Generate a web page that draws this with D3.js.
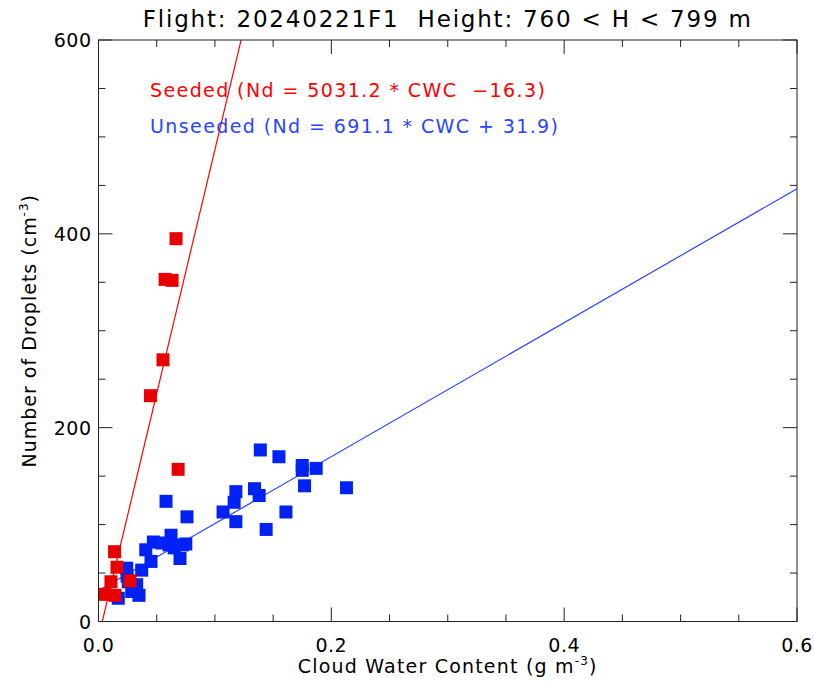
<!DOCTYPE html>
<html>
<head>
<meta charset="utf-8">
<script src="https://cdn.jsdelivr.net/npm/d3@7"></script>
<style>
  body { margin: 0; background: #fff; }
  svg { display: block; font-family: "DejaVu Sans", sans-serif; }
  text { white-space: pre; }
</style>
</head>
<body>
<div id="chart"></div>
<script>
const title = 'Flight: 20240221F1  Height: 760 < H < 799 m';

// seeded samples: [CWC, Nd]
const seeded = [
  [0.0666, 395], [0.0572, 353], [0.0632, 352], [0.0554, 270], [0.0446, 233],
  [0.0684, 157], [0.0138, 72], [0.0159, 56], [0.0107, 41], [0.0271, 42],
  [0.0056, 28], [0.0142, 27]
];

// unseeded samples: [CWC, Nd]
const unseeded = [
  [0.139, 177], [0.155, 170], [0.175, 161], [0.175, 156], [0.187, 158],
  [0.177, 140], [0.213, 138], [0.161, 113], [0.144, 95], [0.118, 134],
  [0.1165, 123], [0.107, 113], [0.118, 103], [0.134, 137], [0.138, 130],
  [0.076, 108], [0.058, 124], [0.0406, 74], [0.0471, 82], [0.0543, 81],
  [0.0623, 89], [0.0606, 79], [0.072, 79], [0.075, 80], [0.070, 65],
  [0.0451, 62], [0.0371, 53], [0.0242, 55], [0.0256, 41], [0.0328, 38],
  [0.0285, 31], [0.0348, 27], [0.017, 24], [0.0245, 47], [0.065, 76]
];

// linear fits Nd = a * CWC + b
const fits = [
  { name: 'Seeded', a: 5031.2, b: -16.3, color: '#ff0000' },
  { name: 'Unseeded', a: 691.1, b: 31.9, color: '#2a45ff' }
];

const xTicks = [0, 0.2, 0.4, 0.6];
const yTicks = [0, 200, 400, 600];

const width = 814, height = 686;
const margin = { top: 40, right: 17, bottom: 65, left: 98.5 };

const svg = d3.select('#chart').append('svg')
  .attr('width', width).attr('height', height);

const x = d3.scaleLinear().domain([0, 0.6]).range([margin.left, width - margin.right]);
const y = d3.scaleLinear().domain([0, 600]).range([height - margin.bottom + 0.5, margin.top]);

svg.append('defs').append('clipPath').attr('id', 'plot')
  .append('rect')
  .attr('x', x(0)).attr('y', y(600))
  .attr('width', x(0.6) - x(0)).attr('height', y(0) - y(600));

// fit lines
const plot = svg.append('g').attr('clip-path', 'url(#plot)');
fits.forEach((f) => {
  plot.append('line')
    .attr('x1', x(0)).attr('y1', y(f.b))
    .attr('x2', x(0.6)).attr('y2', y(f.a * 0.6 + f.b))
    .attr('stroke', f.color)
    .attr('stroke-width', 1.2);
});

// points
const size = 13;
plot.append('g').selectAll('rect')
  .data(unseeded)
  .enter().append('rect')
  .attr('x', (d) => x(d[0]) - size / 2)
  .attr('y', (d) => y(d[1]) - size / 2)
  .attr('width', size).attr('height', size)
  .attr('fill', '#0022f5');

plot.append('g').selectAll('rect')
  .data(seeded)
  .enter().append('rect')
  .attr('x', (d) => x(d[0]) - size / 2)
  .attr('y', (d) => y(d[1]) - size / 2)
  .attr('width', size).attr('height', size)
  .attr('fill', '#e80000');

// axes, IDL style: ticks on all four sides, pointing inward
const axisColor = '#222';
const majorLen = 14, minorLen = 7;
const xMinor = d3.range(0, 0.6001, 0.05);
const yMinor = d3.range(0, 600.1, 50);

const axes = svg.append('g').attr('stroke', axisColor).attr('stroke-width', 1);
axes.append('rect')
  .attr('x', x(0)).attr('y', y(600))
  .attr('width', x(0.6) - x(0)).attr('height', y(0) - y(600))
  .attr('fill', 'none');

const isMajorX = (v) => xTicks.some((t) => Math.abs(t - v) < 1e-6);
const isMajorY = (v) => yTicks.some((t) => Math.abs(t - v) < 1e-6);

xMinor.forEach((v) => {
  const len = isMajorX(v) ? majorLen : minorLen;
  axes.append('line').attr('x1', x(v)).attr('x2', x(v)).attr('y1', y(0)).attr('y2', y(0) - len);
  axes.append('line').attr('x1', x(v)).attr('x2', x(v)).attr('y1', y(600)).attr('y2', y(600) + len);
});
yMinor.forEach((v) => {
  const len = isMajorY(v) ? majorLen : minorLen;
  axes.append('line').attr('y1', y(v)).attr('y2', y(v)).attr('x1', x(0)).attr('x2', x(0) + len);
  axes.append('line').attr('y1', y(v)).attr('y2', y(v)).attr('x1', x(0.6)).attr('x2', x(0.6) - len);
});

// tick labels
svg.append('g').selectAll('text')
  .data(xTicks)
  .enter().append('text')
  .attr('x', (d) => x(d))
  .attr('y', y(0) + 30)
  .attr('text-anchor', 'middle')
  .attr('font-size', 19)
  .attr('letter-spacing', 0.5)
  .text((d) => d3.format('.1f')(d));

svg.append('g').selectAll('text')
  .data(yTicks)
  .enter().append('text')
  .attr('x', x(0) - 7)
  .attr('y', (d) => y(d) + 7)
  .attr('text-anchor', 'end')
  .attr('font-size', 19)
  .attr('letter-spacing', 0.5)
  .text((d) => d);

// title and axis titles
svg.append('text')
  .attr('x', (x(0) + x(0.6)) / 2)
  .attr('y', 27)
  .attr('text-anchor', 'middle')
  .attr('font-size', 23)
  .attr('letter-spacing', 1.8)
  .text(title);

const xLabel = svg.append('text')
  .attr('x', (x(0) + x(0.6)) / 2)
  .attr('y', 673)
  .attr('text-anchor', 'middle')
  .attr('font-size', 19)
  .attr('letter-spacing', 1.2);
xLabel.append('tspan').text('Cloud Water Content (g m');
xLabel.append('tspan').attr('font-size', 12).attr('dy', -8).text('-3');
xLabel.append('tspan').attr('dy', 8).text(')');

const yLabel = svg.append('text')
  .attr('transform', `translate(36,${(y(0) + y(600)) / 2}) rotate(-90)`)
  .attr('text-anchor', 'middle')
  .attr('font-size', 19)
  .attr('letter-spacing', 1);
yLabel.append('tspan').text('Number of Droplets (cm');
yLabel.append('tspan').attr('font-size', 12).attr('dy', -8).text('-3');
yLabel.append('tspan').attr('dy', 8).text(')');

// fit legend
const fmt = (f) => {
  const sign = f.b < 0 ? '  \u2212' : ' + ';
  return `${f.name} (Nd = ${f.a.toFixed(1)} * CWC${sign}${Math.abs(f.b).toFixed(1)})`;
};
svg.append('g').selectAll('text')
  .data(fits)
  .enter().append('text')
  .attr('x', 150)
  .attr('y', (d, i) => 97 + i * 36)
  .attr('font-size', 19)
  .attr('letter-spacing', 1.4)
  .attr('fill', (d) => d.color)
  .text(fmt);
</script>
</body>
</html>
